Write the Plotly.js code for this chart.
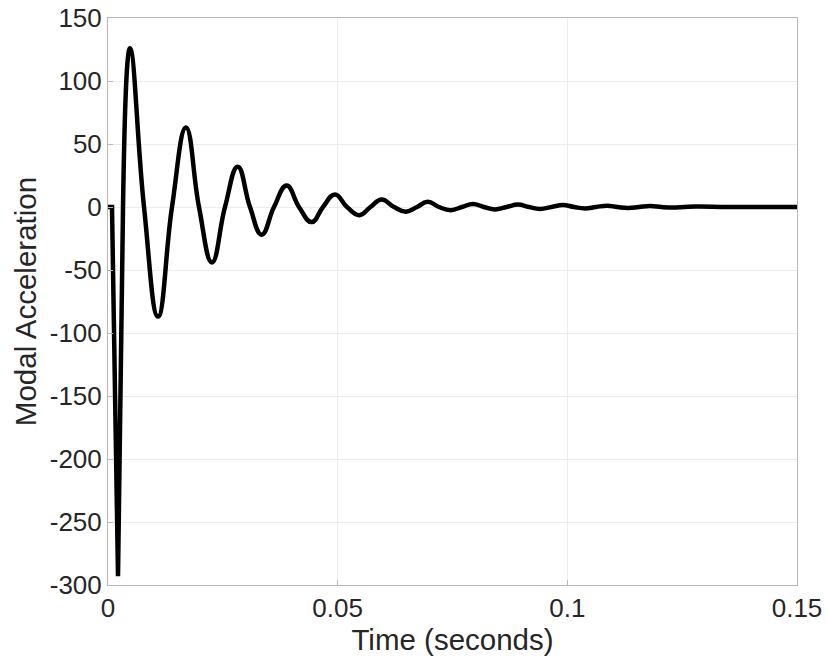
<!DOCTYPE html>
<html>
<head>
<meta charset="utf-8">
<script src="https://cdn.plot.ly/plotly-3.0.1.min.js"></script>
<style>html,body{margin:0;padding:0;background:#fff;}</style>
</head>
<body>
<div id="chart" style="width:827px;height:661px;"></div>
<script>
// Initial impulse segment (seconds, modal acceleration)
const spikeTime = [0, 0.00087, 0.00218, 0.00327];
const spikeAccel = [0, 0, -293, 0];

// Decaying oscillation: extrema and zero crossings
const ringTime = [0.00327, 0.00479, 0.00784, 0.01089, 0.01393, 0.01698, 0.01981, 0.02264,
  0.02547, 0.02824, 0.03091, 0.03346, 0.03614, 0.0389, 0.04158, 0.04435, 0.04681, 0.04942,
  0.05203, 0.05471, 0.05715, 0.05959, 0.06226, 0.06488, 0.06727, 0.0696, 0.07206, 0.07461,
  0.07707, 0.07947, 0.08186, 0.08425, 0.08676, 0.08926, 0.09166, 0.09405, 0.09656, 0.09906,
  0.10146, 0.10385, 0.10625, 0.10864, 0.11092, 0.1132, 0.1156, 0.118, 0.1205, 0.123, 0.1255,
  0.128, 0.135, 0.142, 0.15];
const ringAccel = [0, 126, 0, -87, 0, 63, 0, -44,
  0, 32, 0, -22, 0, 17, 0, -12, 0, 10,
  0, -6.5, 0, 6, 0, -3.7, 0, 4.2, 0, -2.5,
  0, 2.4, 0, -1.9, 0, 1.9, 0, -1.5, 0, 1.6,
  0, -1.1, 0, 1.0, 0, -0.7, 0, 0.8, 0, -0.4, 0,
  0.3, 0, 0, 0];

const yTickVals = [-300, -250, -200, -150, -100, -50, 0, 50, 100, 150];
const yTickText = ['-300', '-250', '-200', '-150', '-100', '-50', '0', '50', '100', '150'];
const xTickVals = [0, 0.05, 0.1, 0.15];
const xTickText = ['0', '0.05', '0.1', '0.15'];

const lineStyle = {color: '#000000', width: 4.5};
const traces = [
  {x: spikeTime, y: spikeAccel, type: 'scatter', mode: 'lines', line: Object.assign({shape: 'linear'}, lineStyle), hoverinfo: 'skip'},
  {x: ringTime, y: ringAccel, type: 'scatter', mode: 'lines', line: Object.assign({shape: 'spline', smoothing: 1.3}, lineStyle), hoverinfo: 'skip'}
];

const fontFam = '"Liberation Sans", Arial, Helvetica, sans-serif';
const axisCommon = {
  showgrid: true, gridcolor: '#ececec', gridwidth: 1,
  showline: true, linecolor: '#b8b8b8', linewidth: 1, mirror: true,
  ticks: 'inside', ticklen: 5, tickcolor: '#b8b8b8', tickwidth: 1,
  zeroline: false,
  tickfont: {family: fontFam, size: 26, color: '#262626'},
  tickmode: 'array'
};

const layout = {
  width: 827, height: 661,
  margin: {l: 108, r: 30, t: 18, b: 76},
  paper_bgcolor: '#ffffff', plot_bgcolor: '#ffffff',
  showlegend: false,
  xaxis: Object.assign({}, axisCommon, {
    range: [0, 0.15], tickvals: xTickVals, ticktext: xTickText,
    ticklabelstandoff: 0,
    title: {text: 'Time (seconds)', font: {family: fontFam, size: 29.5, color: '#262626'}, standoff: 0}
  }),
  yaxis: Object.assign({}, axisCommon, {
    range: [-300, 150], tickvals: yTickVals, ticktext: yTickText,
    title: {text: 'Modal Acceleration', font: {family: fontFam, size: 29.5, color: '#262626'}, standoff: 4}
  })
};

Plotly.newPlot('chart', traces, layout, {staticPlot: true, displayModeBar: false});
</script>
</body>
</html>
